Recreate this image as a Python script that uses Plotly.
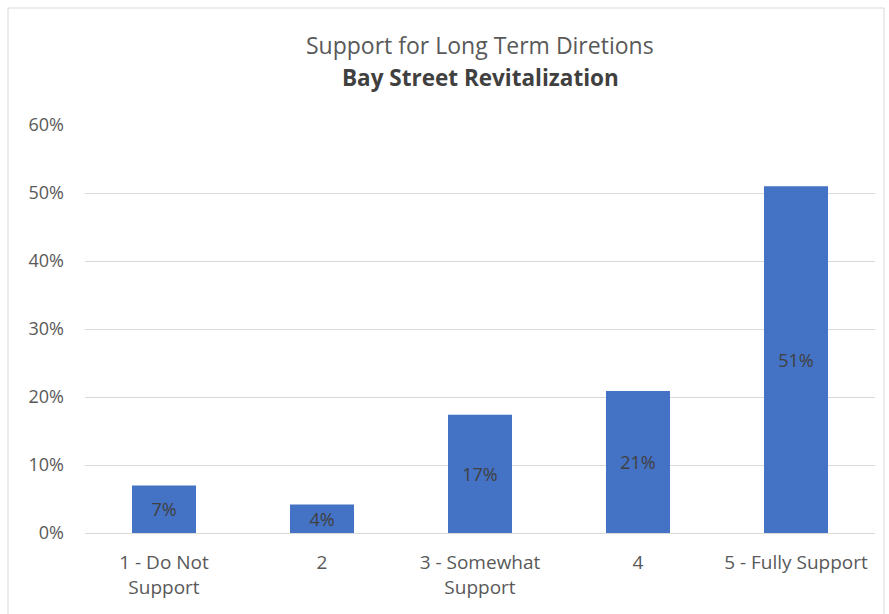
import plotly.graph_objects as go

categories = ["1 - Do Not<br>Support", "2", "3 - Somewhat<br>Support", "4", "5 - Fully Support"]
values = [0.070, 0.042, 0.174, 0.209, 0.510]
labels = ["7%", "4%", "17%", "21%", "51%"]
tick_vals = [0, 0.1, 0.2, 0.3, 0.4, 0.5, 0.6]
tick_text = ["0%", "10%", "20%", "30%", "40%", "50%", "60%"]

FONT = "Open Sans, Noto Sans, sans-serif"

fig = go.Figure()
fig.add_trace(go.Bar(
    x=categories, y=values, text=labels,
    textposition="inside", insidetextanchor="middle", constraintext="none",
    textfont=dict(family=FONT, size=18, color="#404040"),
    marker=dict(color="#4472C4", line=dict(width=0)),
    cliponaxis=False,
))

fig.update_layout(
    width=889, height=614,
    margin=dict(l=85, r=14, t=125, b=81),
    paper_bgcolor="white", plot_bgcolor="white",
    bargap=0.595,
    showlegend=False,
    font=dict(family=FONT, color="#595959"),
    xaxis=dict(showgrid=False, showline=False, ticks="", tickangle=0,
               ticklabelstandoff=16,
               tickfont=dict(family=FONT, size=19, color="#595959")),
    yaxis=dict(range=[0, 0.6], tickvals=tick_vals, ticktext=tick_text,
               showgrid=True, gridcolor="#D9D9D9", gridwidth=1,
               zeroline=True, zerolinecolor="#D9D9D9", zerolinewidth=1,
               showline=False, ticks="", ticklabelstandoff=20,
               tickfont=dict(family=FONT, size=18, color="#595959")),
    annotations=[
        dict(text="Support for Long Term Diretions", xref="paper", yref="paper",
             x=0.5, y=(614 - 45 - 81) / 408, xanchor="center", yanchor="middle",
             showarrow=False, font=dict(family=FONT, size=23, color="#595959")),
        dict(text="<b>Bay Street Revitalization</b>", xref="paper", yref="paper",
             x=0.5, y=(614 - 78 - 81) / 408, xanchor="center", yanchor="middle",
             showarrow=False, font=dict(family=FONT, size=22.5, color="#404040")),
    ],
    shapes=[
        dict(type="rect", xref="paper", yref="paper",
             x0=(8 - 85) / 790, x1=(884 - 85) / 790,
             y0=(614 - 620 - 81) / 408, y1=(614 - 8 - 81) / 408,
             line=dict(color="#D9D9D9", width=1), fillcolor="rgba(0,0,0,0)", layer="below"),
    ],
)

fig.write_html("out.html")
